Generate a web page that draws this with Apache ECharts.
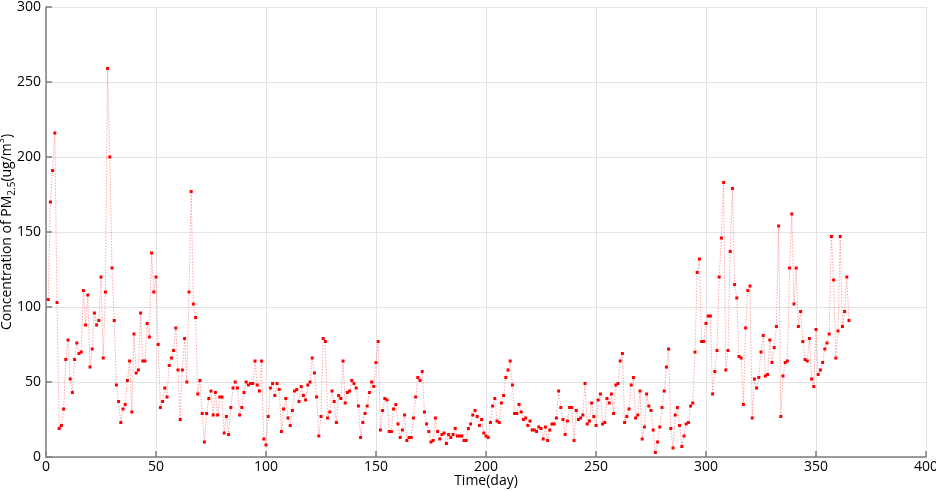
<!DOCTYPE html>
<html><head><meta charset="utf-8">
<script src="https://cdn.jsdelivr.net/npm/echarts@6/dist/echarts.min.js"></script>
<style>html,body{margin:0;padding:0;background:#fff}#c{width:936px;height:491px}</style>
</head><body><div id="c"></div>
<script>
// PM2.5 daily concentration, day 1..365
const pmValues = [
105,170,191,216,103,19,21,32,65,78,52,43,65,76,69,70,111,88,108,60,
72,96,88,91,120,66,110,259,200,126,91,48,37,23,32,35,51,64,30,82,
56,58,96,64,64,89,80,136,110,120,75,33,37,46,40,61,66,71,86,58,
25,58,79,50,110,177,102,93,42,51,29,10,29,39,44,28,43,28,40,40,
16,27,15,33,46,50,46,28,33,43,50,48,49,49,64,48,44,64,12,8,
27,46,49,41,49,45,17,32,39,26,21,31,44,45,37,47,41,38,48,50,
66,56,40,14,27,79,77,26,30,44,37,23,41,39,64,36,43,44,51,49,
46,34,13,23,29,34,43,50,47,63,77,18,31,39,38,17,17,32,35,22,
13,18,28,11,13,13,26,40,53,51,57,30,22,17,10,11,26,17,12,15,
16,9,15,13,15,19,14,14,14,11,11,19,22,28,31,27,21,25,16,14,
13,23,34,39,24,23,36,41,53,58,64,48,29,29,35,30,25,26,21,24,
18,18,17,20,19,12,20,11,18,22,22,26,44,33,25,15,24,33,33,11,
31,25,26,28,49,22,24,36,27,21,38,42,22,23,39,36,42,29,48,49,
64,69,23,27,32,48,53,26,28,44,12,20,42,34,31,18,3,10,20,33,
44,60,72,19,6,28,33,21,7,14,22,23,34,36,70,123,132,77,77,89,
94,94,42,57,71,120,146,183,58,71,137,179,115,106,67,66,35,86,111,114,
26,52,46,53,70,81,54,55,78,63,73,87,154,27,54,63,64,126,162,102,
126,87,97,77,65,64,79,52,47,85,55,58,63,72,76,82,147,118,66,84,
147,87,97,120,91
];
const xTicks = [0,50,100,150,200,250,300,350,400];
const yTicks = [0,50,100,150,200,250,300];
const firstDay = 1;

const seriesData = pmValues.map((v, i) => [firstDay + i, v]);

const chart = echarts.init(document.getElementById('c'), null, {renderer: 'canvas'});
const font = 'Open Sans';
const axisCommon = {
  axisLine: {show: true, onZero: false, lineStyle: {color: '#7f7f7f', width: 1.5}},
  axisTick: {show: true, inside: true, length: 6, lineStyle: {color: '#7f7f7f', width: 1.5}},
  splitLine: {show: true, lineStyle: {color: '#e3e3e3', width: 1}},
  axisLabel: {color: '#000', fontSize: 14, fontFamily: font}
};
chart.setOption({
  animation: false,
  backgroundColor: '#fff',
  grid: {left: 46, right: 10, top: 7, bottom: 34, containLabel: false, outerBoundsMode: 'none'},
  xAxis: Object.assign({}, axisCommon, {
    type: 'value', min: xTicks[0], max: xTicks[xTicks.length - 1], interval: 50,
    name: 'Time(day)', nameLocation: 'middle', nameGap: 17, nameMoveOverlap: false,
    nameTextStyle: {color: '#000', fontSize: 14, fontFamily: font},
    axisLabel: {color: '#000', fontSize: 14, fontFamily: font, margin: 3}
  }),
  yAxis: Object.assign({}, axisCommon, {
    type: 'value', min: yTicks[0], max: yTicks[yTicks.length - 1], interval: 50,
    name: '{a|Concentration of PM}{sub|2.5}{a|(ug/m}{sup|3}{a|)}',
    nameLocation: 'middle', nameGap: 29, nameMoveOverlap: false,
    nameTextStyle: {
      color: '#000', fontSize: 14, fontFamily: font,
      rich: {
        a: {fontSize: 14, fontFamily: font, color: '#000', lineHeight: 20},
        sub: {fontSize: 10, fontFamily: font, color: '#000', lineHeight: 20, verticalAlign: 'bottom', padding: [8, 0, 0, 0]},
        sup: {fontSize: 9, fontFamily: font, color: '#000', lineHeight: 20, verticalAlign: 'top', padding: [0, 0, 8, 0]}
      }
    },
    axisLabel: {color: '#000', fontSize: 14, fontFamily: font, margin: 5}
  }),
  series: [{
    type: 'line',
    data: seriesData,
    symbol: 'rect',
    symbolSize: 3,
    showSymbol: true,
    itemStyle: {color: '#ff0000'},
    lineStyle: {color: 'rgba(255,80,80,0.5)', width: 1, type: [1.5, 1.5]},
    z: 3
  }]
});
</script>
</body></html>
